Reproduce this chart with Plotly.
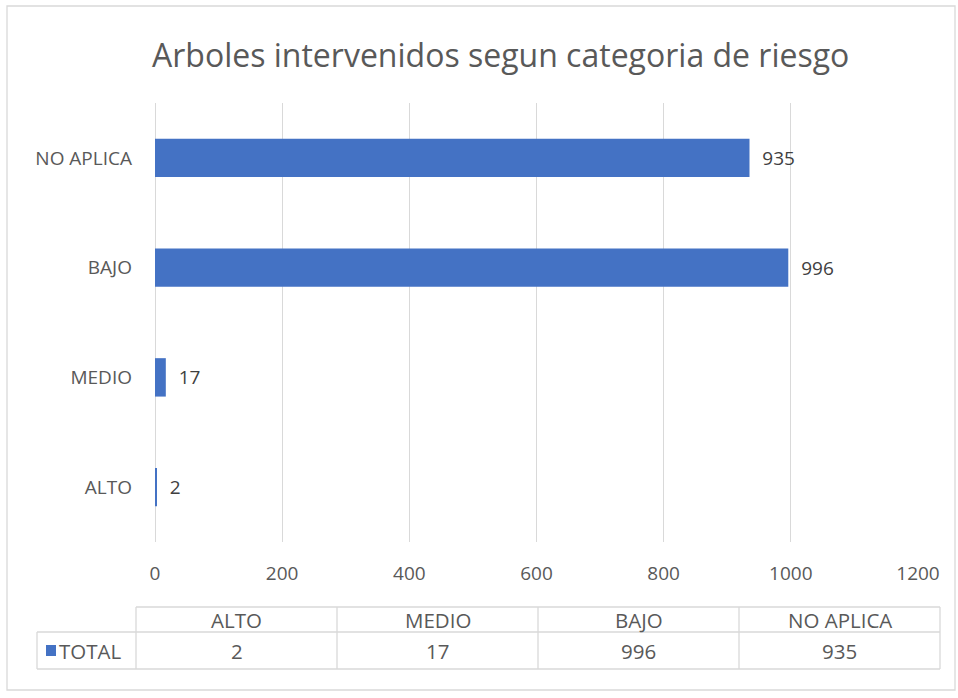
import plotly.graph_objects as go

categories = ["ALTO", "MEDIO", "BAJO", "NO APLICA"]
values = [2, 17, 996, 935]
series_name = "TOTAL"
x_ticks = [0, 200, 400, 600, 800, 1000, 1200]
title = "Arboles intervenidos segun categoria de riesgo"

W, H = 958, 698
L, R, T, B = 155, 918, 103, 542  # plot area in px

def px(x):
    return (x - L) / (R - L)

def py(y):
    return (B - y) / (B - T)

FONT = "Open Sans"
TXT = "#595959"
GRID = "#d9d9d9"
BLUE = "#4472C4"
FS = 19
FT = 20.5

fig = go.Figure()
fig.add_trace(go.Bar(
    y=categories, x=values, orientation="h", name=series_name,
    marker=dict(color=BLUE, line=dict(width=0)),
    text=[str(v) for v in values], textposition="outside",
    texttemplate="\u00a0\u00a0%{text}",
    textfont=dict(family=FONT, size=FS, color="#404040"),
    cliponaxis=False, width=0.35, hoverinfo="skip",
))

shapes = []
# outer chart border
shapes.append(dict(type="rect", xref="paper", yref="paper",
                   x0=px(7), x1=px(955), y0=py(690), y1=py(6),
                   line=dict(color=GRID, width=1.3), fillcolor="rgba(0,0,0,0)", layer="below"))

# data table lines
col_edges = [136, 337, 538, 739, 940]
y_head_top, y_mid, y_bot = 607, 632, 669
def hline(x0, x1, y):
    shapes.append(dict(type="line", xref="paper", yref="paper",
                       x0=px(x0), x1=px(x1), y0=py(y), y1=py(y),
                       line=dict(color=GRID, width=1.3)))
def vline(x, y0, y1):
    shapes.append(dict(type="line", xref="paper", yref="paper",
                       x0=px(x), x1=px(x), y0=py(y0), y1=py(y1),
                       line=dict(color=GRID, width=1.3)))
hline(136, 940, y_head_top)
hline(37, 940, y_mid)
hline(37, 940, y_bot)
vline(37, y_mid, y_bot)
for xe in col_edges:
    vline(xe, y_head_top, y_bot)
# legend key
shapes.append(dict(type="rect", xref="paper", yref="paper",
                   x0=px(46), x1=px(56), y0=py(656), y1=py(645),
                   line=dict(width=0), fillcolor=BLUE))

annotations = []
annotations.append(dict(text=title, xref="paper", yref="paper",
                        x=px(500), y=py(54), xanchor="center", yanchor="middle",
                        showarrow=False, font=dict(family=FONT, size=32, color=TXT)))
for i, cat in enumerate(categories):
    cx = (col_edges[i] + col_edges[i + 1]) / 2
    annotations.append(dict(text=cat, xref="paper", yref="paper",
                            x=px(cx), y=py((y_head_top + y_mid) / 2),
                            xanchor="center", yanchor="middle", showarrow=False,
                            font=dict(family=FONT, size=FT, color=TXT)))
    annotations.append(dict(text=str(values[i]), xref="paper", yref="paper",
                            x=px(cx), y=py((y_mid + y_bot) / 2),
                            xanchor="center", yanchor="middle", showarrow=False,
                            font=dict(family=FONT, size=FT, color=TXT)))
annotations.append(dict(text=series_name, xref="paper", yref="paper",
                        x=px(57), y=py((y_mid + y_bot) / 2),
                        xanchor="left", yanchor="middle", showarrow=False,
                        font=dict(family=FONT, size=FT, color=TXT)))

fig.update_layout(
    width=W, height=H,
    margin=dict(l=L, r=W - R, t=T, b=H - B, pad=0),
    paper_bgcolor="white", plot_bgcolor="white",
    showlegend=False,
    bargap=0.65,
    shapes=shapes, annotations=annotations,
    xaxis=dict(range=[0, 1200], tickvals=x_ticks, showgrid=True, gridcolor=GRID, gridwidth=1.3,
               zeroline=True, zerolinecolor=GRID, zerolinewidth=1.3, showline=False,
               ticks="", ticklabelstandoff=18,
               tickfont=dict(family=FONT, size=FS, color=TXT), fixedrange=True),
    yaxis=dict(categoryorder="array", categoryarray=categories, showgrid=False,
               showline=False, zeroline=False, ticks="", ticklabelstandoff=22,
               tickfont=dict(family=FONT, size=FS, color=TXT), fixedrange=True),
)

fig.write_html("out.html", config={"displayModeBar": False},
               post_script="document.body.style.margin='0';")
